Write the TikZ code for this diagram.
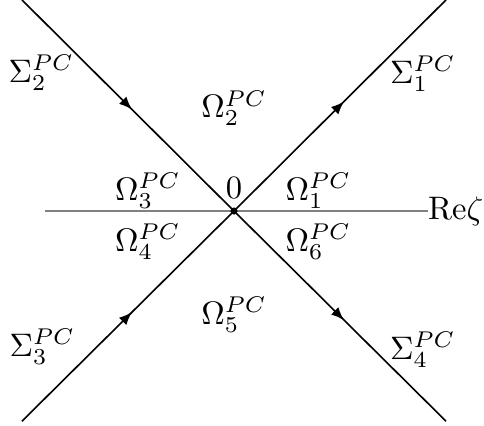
\documentclass[tikz,border=0pt]{standalone}
\usetikzlibrary{positioning,arrows.meta,decorations.markings}

\begin{document}
\begin{tikzpicture}[
  ray/.style={line width=0.5pt, postaction={decorate},
    decoration={markings, mark=at position 0.52 with {\arrow{Latex[length=4pt,width=3.2pt]}}}},
  axis/.style={gray, line width=0.5pt},
  lbl/.style={inner sep=0pt}
]
\useasboundingbox (-2.527,-2.311) rectangle (2.70,2.279);

% Contour points
\coordinate (O)  at (0,0);
\coordinate (NE) at (2.29,2.28);
\coordinate (NW) at (-2.29,2.28);
\coordinate (SW) at (-2.29,-2.27);
\coordinate (SE) at (2.29,-2.27);
\coordinate (L)  at (-2.04,0);

% Real axis
\node[inner sep=0pt, anchor=west] (re) at (2.09,0) {$\mathrm{Re}\zeta$};
\draw[axis] (L) -- (re.west);

% Rays
\draw[ray] (NW) -- (O);
\draw[ray] (O) -- (NE);
\draw[ray] (SW) -- (O);
\draw[ray] (O) -- (SE);

\fill (O) circle (1.1pt);
\node[lbl] (zero) at (0,0.25) {$0$};

% Contour labels
\node[lbl] (s1) at (2.04,1.48) {$\Sigma_1^{PC}$};
\node[lbl] (s2) at (-2.08,1.49) {$\Sigma_2^{PC}$};
\node[lbl] (s3) at (-2.07,-1.47) {$\Sigma_3^{PC}$};
\node[lbl] (s4) at (2.04,-1.50) {$\Sigma_4^{PC}$};

% Region labels
\node[lbl] (w1) at (0.91,0.22) {$\Omega_1^{PC}$};
\node[lbl] (w2) at (0,1.11) {$\Omega_2^{PC}$};
\node[lbl] (w3) at (-0.93,0.22) {$\Omega_3^{PC}$};
\node[lbl] (w4) at (-0.93,-0.33) {$\Omega_4^{PC}$};
\node[lbl] (w5) at (0,-1.12) {$\Omega_5^{PC}$};
\node[lbl] (w6) at (0.91,-0.33) {$\Omega_6^{PC}$};

\end{tikzpicture}
\end{document}
